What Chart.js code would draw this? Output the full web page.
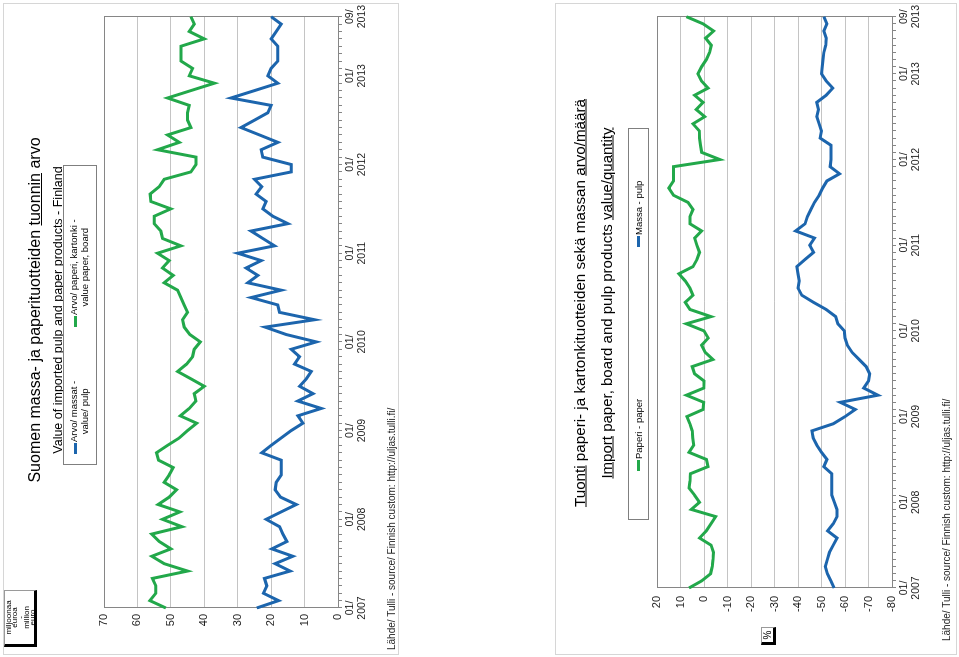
<!DOCTYPE html>
<html><head><meta charset="utf-8">
<script src="https://cdn.jsdelivr.net/npm/chart.js@4.4.1/dist/chart.umd.min.js"></script>
<style>
html,body{margin:0;padding:0;background:#fff;}
body{width:959px;height:657px;overflow:hidden;position:relative;font-family:"Liberation Sans",Arial,sans-serif;color:#000;}
.panel{position:absolute;left:0;top:0;width:652px;transform-origin:0 0;background:#fff;}
.frame{position:absolute;left:0;top:0;right:0;bottom:0;border:1px solid #d6d6d6;pointer-events:none;}
#p1{height:396px;transform:translate(3px,655px) rotate(-90deg);}
#p2{height:402px;transform:translate(555px,655px) rotate(-90deg);}
canvas{position:absolute;left:0;top:0;}
.t{position:absolute;white-space:nowrap;text-align:center;transform:translate(-50%,-50%);}
.legend{position:absolute;border:1px solid #7f7f7f;background:#fff;box-sizing:border-box;}
.li{position:absolute;font-size:9.5px;line-height:11px;text-align:center;white-space:nowrap;}
.mk{position:absolute;width:11px;height:3px;}
.unit{position:absolute;border:1px solid #9a9a9a;border-left:3px solid #000;border-bottom:3px solid #000;background:#fff;text-align:center;box-sizing:border-box;}
.src{position:absolute;font-size:10px;white-space:nowrap;color:#222;}
</style>
</head><body>

<div id="p1" class="panel">
  <canvas id="c1" width="652" height="396"></canvas>
  <div class="t" style="left:345px;top:32px;font-size:16px;">Suomen massa- ja paperituotteiden <u>tuonnin</u> arvo</div>
  <div class="t" style="left:345px;top:55px;font-size:12.5px;">Value of <u>imported</u> pulp and paper products - Finland</div>
  <div class="legend" style="left:190px;top:60px;width:300px;height:34px;">
    <div class="mk" style="left:10px;top:10px;background:#1c65ad;"></div>
    <div class="li" style="left:22px;top:4px;">Arvo/ massat -<br>value/ pulp</div>
    <div class="mk" style="left:137px;top:10px;background:#22a84a;"></div>
    <div class="li" style="left:149px;top:4px;">Arvo/ paperi, kartonki -<br>value paper, board</div>
  </div>
  <div class="unit" style="left:8px;top:1px;width:57px;height:33px;font-size:8px;line-height:5.9px;padding-top:1px;">miljoonaa<br>euroa<br>-<br>million<br>euro</div>
  <div class="src" style="left:5px;top:383px;">Lähde/ Tulli - source/ Finnish custom: http://uljas.tulli.fi/</div>
  <div class="frame"></div>
</div>

<div id="p2" class="panel">
  <canvas id="c2" width="652" height="402"></canvas>
  <div class="t" style="left:352px;top:24px;font-size:15.2px;"><u>Tuonti</u> paperi- ja kartonkituotteiden sekä massan <u>arvo/määrä</u></div>
  <div class="t" style="left:352px;top:51px;font-size:15px;"><u>Import</u> paper, board and pulp products <u>value/quantity</u></div>
  <div class="legend" style="left:135px;top:73px;width:392px;height:21px;">
    <div class="mk" style="left:48px;top:8px;background:#22a84a;"></div>
    <div class="li" style="left:60px;top:4px;">Paperi - paper</div>
    <div class="mk" style="left:272px;top:8px;background:#1c65ad;"></div>
    <div class="li" style="left:284px;top:4px;">Massa - pulp</div>
  </div>
  <div class="unit" style="left:10px;top:206px;width:18px;height:15px;font-size:10px;line-height:11px;">%</div>
  <div class="src" style="left:14px;top:386px;">Lähde/ Tulli - source/ Finnish custom: http://uljas.tulli.fi/</div>
  <div class="frame"></div>
</div>

<script>
// ---- categories (monthly, 01/2007 .. 09/2013) ----
const months = [
 "01/2007","02/2007","03/2007","04/2007","05/2007","06/2007","07/2007","08/2007","09/2007","10/2007","11/2007","12/2007",
 "01/2008","02/2008","03/2008","04/2008","05/2008","06/2008","07/2008","08/2008","09/2008","10/2008","11/2008","12/2008",
 "01/2009","02/2009","03/2009","04/2009","05/2009","06/2009","07/2009","08/2009","09/2009","10/2009","11/2009","12/2009",
 "01/2010","02/2010","03/2010","04/2010","05/2010","06/2010","07/2010","08/2010","09/2010","10/2010","11/2010","12/2010",
 "01/2011","02/2011","03/2011","04/2011","05/2011","06/2011","07/2011","08/2011","09/2011","10/2011","11/2011","12/2011",
 "01/2012","02/2012","03/2012","04/2012","05/2012","06/2012","07/2012","08/2012","09/2012","10/2012","11/2012","12/2012",
 "01/2013","02/2013","03/2013","04/2013","05/2013","06/2013","07/2013","08/2013","09/2013"
];

// ---- chart 1: value of imports, million euro ----
const pulpValue = [
 24.3,17.8,22.3,21.3,22,14.3,18.8,13.5,19.8,15.3,16.5,17.5,
 21.5,17,12.5,17.2,18.8,18.5,17,17,17,22.8,20,17,
 14,10.5,12,5,12,7.5,11.5,9.5,8,13,11.5,14,
 6.5,15.5,21.8,7,17.5,18,26,17,27,24,27.5,23,
 30,19,22.5,26,15,19.5,22.5,21.5,24.5,22.8,25,14,
 14,22.5,23,18,23.5,29,25,21,20,32,25,18,
 21,20,18,18,18,20,18.5,17,20
];
const paperValue = [
 51.5,56.3,54.5,54.5,55.5,45,52,55.7,50,53.5,55.7,46.7,
 52.5,47.3,53.8,50.5,48.3,52,50.5,49.3,53.7,54.3,51,47.5,
 45,42.3,47.2,44.5,42.5,43,40,44,48,45.3,43.5,43,
 41.2,44.3,46,46.5,45,46,47,48,52,49.3,52.5,50.5,
 54,47,52.5,53,55,55,50,56,56.2,53.5,52,44,
 42.5,42.5,54,47.5,51,44,45,45,44.5,51,44,37,
 44.5,43.5,47,47,47,40,44.5,43,44
];

// ---- chart 2: value/quantity, % ----
const paperRatio = [
 6.4,1,-2.8,-3.5,-3.8,-4,-3,1.9,-1,-3,-5,5.4,
 1.9,4,6.4,6,5.8,-1.7,-1,6.4,4.4,4.8,5,6,
 7.3,0.4,0.1,7.5,0.1,0,4,5,-3.8,-0.5,1,-1.8,
 0,7.5,-3,6,8,4.7,6,8,10.7,4.7,3,1.9,
 3,4,1,6,6,4.7,6.8,13,15,13,13,13,
 -6.7,1,1.5,1.9,2,4.7,-0.3,3.3,0.4,4,-1.7,1.1,
 2.6,1,-1,-2.4,-3.1,-0.7,-4.1,0.4,7.5
];
const pulpRatio = [
 -55.4,-54,-52.5,-51.6,-52.5,-53.4,-55,-56.6,-52.6,-55,-56.6,-56.6,
 -55.5,-54.4,-54.4,-54.4,-54.4,-51,-52.3,-50,-48,-46.5,-45.9,-55,
 -60,-64.4,-58,-74,-68,-70,-70.5,-69,-66,-63,-61,-60,
 -59.7,-57,-56,-52,-46.6,-41.6,-40,-40.5,-40,-39.5,-43,-46.6,
 -45,-47,-39,-43,-44,-45.5,-47,-49,-50.5,-52.3,-57.7,-53.7,
 -54,-54,-54,-49.4,-50,-49,-48,-48.7,-48,-52,-54.8,-52,
 -50,-50.3,-50.6,-51,-51.8,-52,-51,-52.3,-51
];

const axis1 = {min:0, max:70, step:10};
const axis2 = {min:-80, max:20, step:10};

const BLUE = '#1c65ad', GREEN = '#22a84a';
const FONT = '"Liberation Sans", Arial, sans-serif';

const framePlugin = {
  id:'frame',
  beforeDatasetsDraw(chart){
    const a = chart.chartArea, c = chart.ctx;
    c.save(); c.strokeStyle = '#868686'; c.lineWidth = 1;
    c.strokeRect(Math.round(a.left)+0.5, Math.round(a.top)+0.5, Math.round(a.right-a.left), Math.round(a.bottom-a.top));
    c.restore();
  }
};

function makeChart(id, sets, ax, area, h){
  return new Chart(document.getElementById(id), {
    type:'line',
    data:{labels:months, datasets:sets.map(s=>({label:s.label, data:s.data, borderColor:s.color, backgroundColor:s.color, borderWidth:3, pointRadius:0, tension:0, fill:false, borderJoinStyle:'miter'}))},
    options:{
      responsive:false, animation:false, devicePixelRatio:1,
      layout:{padding:{left:0, top:area.top, right:652-area.right, bottom:0}},
      plugins:{legend:{display:false}, tooltip:{enabled:false}, title:{display:false}},
      scales:{
        x:{
          type:'category', offset:false,
          grid:{display:true, drawOnChartArea:false, drawTicks:true, tickLength:4, color:'#868686'},
          border:{display:true, color:'#868686'},
          ticks:{autoSkip:false, maxRotation:0, minRotation:0, padding:2, color:'#222', font:{family:FONT, size:10.5, lineHeight:1.15},
            callback:(v,i)=>{ const p = months[i].split('/'); return (p[0]==='01' || i===months.length-1) ? [p[0]+'/', p[1]] : ''; }},
          afterFit:(s)=>{ s.height = h - area.bottom; }
        },
        y:{
          min:ax.min, max:ax.max,
          grid:{color:'#c4c4c4', drawTicks:false, lineWidth:1},
          border:{display:true, color:'#868686'},
          ticks:{stepSize:ax.step, padding:area.ypad, color:'#222', font:{family:FONT, size:11}},
          afterFit:(s)=>{ s.width = area.left; }
        }
      }
    },
    plugins:[framePlugin]
  });
}

makeChart('c1', [
  {label:'Arvo/ massat - value/ pulp', data:pulpValue, color:BLUE},
  {label:'Arvo/ paperi, kartonki - value paper, board', data:paperValue, color:GREEN}
], axis1, {left:47, right:640, top:101, bottom:335, ypad:6}, 396);

makeChart('c2', [
  {label:'Paperi - paper', data:paperRatio, color:GREEN},
  {label:'Massa - pulp', data:pulpRatio, color:BLUE}
], axis2, {left:67, right:640, top:102, bottom:337, ypad:8}, 402);
</script>
</body></html>
